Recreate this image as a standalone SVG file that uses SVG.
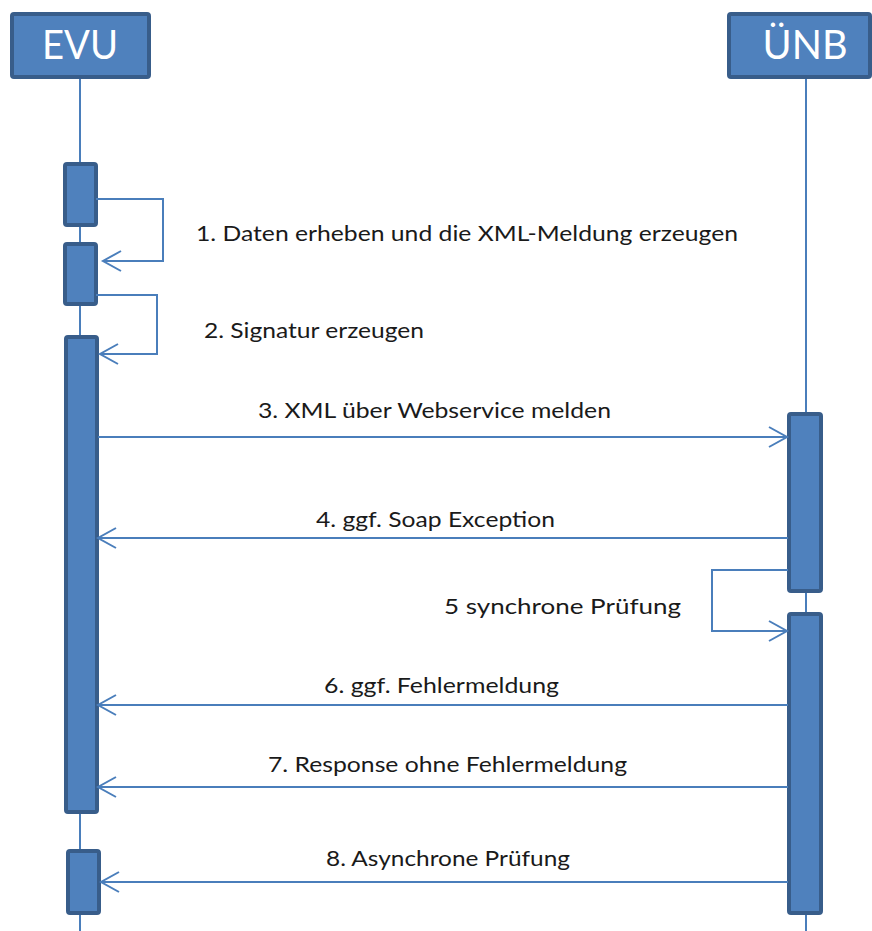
<svg xmlns="http://www.w3.org/2000/svg" width="872" height="931" viewBox="0 0 872 931">
<style>
.head{fill:#4F81BD;stroke:#385D8A;stroke-width:4}
.act{fill:#4F81BD;stroke:#385D8A;stroke-width:4}
.life{stroke:#4A7EBB;stroke-width:2;fill:none}
.msg{stroke:#4A7EBB;stroke-width:2;fill:none;marker-end:url(#arr)}
.ht{font-family:Lato,"Open Sans",sans-serif;font-size:40px;fill:#fff;text-anchor:middle}
.lbl{font-family:Lato,"Open Sans",sans-serif;font-size:22px;fill:#1a1a1a}
</style>
<defs>
<marker id="arr" markerUnits="userSpaceOnUse" markerWidth="24" markerHeight="24" viewBox="-20 -12 24 24" refX="0" refY="0" orient="auto" overflow="visible">
<path d="M -18 -10 L 0 0 L -18 10" fill="none" stroke="#4A7EBB" stroke-width="2"/>
</marker>
</defs>
<g id="lifelines">
<line class="life" x1="80" y1="78" x2="80" y2="931"/>
<line class="life" x1="806" y1="78" x2="806" y2="931"/>
</g>
<g id="EVU">
<rect class="head" x="12" y="14" width="137" height="63" rx="2"/>
<text class="ht" x="80" y="59" textLength="76" lengthAdjust="spacingAndGlyphs">EVU</text>
</g>
<g id="UENB">
<rect class="head" x="729" y="14" width="141" height="63" rx="2"/>
<text class="ht" x="805" y="59" textLength="85" lengthAdjust="spacingAndGlyphs">ÜNB</text>
</g>
<g id="evu-act1"><rect class="act" x="65" y="164" width="31" height="61" rx="2"/></g>
<g id="evu-act2"><rect class="act" x="65" y="244" width="31" height="60" rx="2"/></g>
<g id="evu-act3"><rect class="act" x="66" y="337" width="31" height="475" rx="2"/></g>
<g id="evu-act4"><rect class="act" x="68" y="851" width="31" height="62" rx="2"/></g>
<g id="uenb-act1"><rect class="act" x="789" y="414" width="32" height="177" rx="2"/></g>
<g id="uenb-act2"><rect class="act" x="789" y="614" width="32" height="299" rx="2"/></g>
<g id="connectors">
<path class="msg" d="M 96 199 H 163 V 261 H 103"/>
<path class="msg" d="M 96 295 H 157 V 354 H 100"/>
<path class="msg" d="M 98 437 H 787"/>
<path class="msg" d="M 788 538 H 98"/>
<path class="msg" d="M 788 570 H 712 V 631 H 787"/>
<path class="msg" d="M 788 705 H 98"/>
<path class="msg" d="M 788 787 H 98"/>
<path class="msg" d="M 788 882 H 101"/>
</g>
<g id="labels">
<text class="lbl" x="196" y="241" textLength="542" lengthAdjust="spacingAndGlyphs">1. Daten erheben und die XML-Meldung erzeugen</text>
<text class="lbl" x="204" y="338" textLength="220" lengthAdjust="spacingAndGlyphs">2. Signatur erzeugen</text>
<text class="lbl" x="258" y="418" textLength="353" lengthAdjust="spacingAndGlyphs">3. XML über Webservice melden</text>
<text class="lbl" x="316" y="527" textLength="239" lengthAdjust="spacingAndGlyphs">4. ggf. Soap Exception</text>
<text class="lbl" x="444" y="614" textLength="237" lengthAdjust="spacingAndGlyphs">5 synchrone Prüfung</text>
<text class="lbl" x="324" y="693" textLength="235" lengthAdjust="spacingAndGlyphs">6. ggf. Fehlermeldung</text>
<text class="lbl" x="268" y="772" textLength="359" lengthAdjust="spacingAndGlyphs">7. Response ohne Fehlermeldung</text>
<text class="lbl" x="326" y="866" textLength="244" lengthAdjust="spacingAndGlyphs">8. Asynchrone Prüfung</text>
</g>
</svg>
